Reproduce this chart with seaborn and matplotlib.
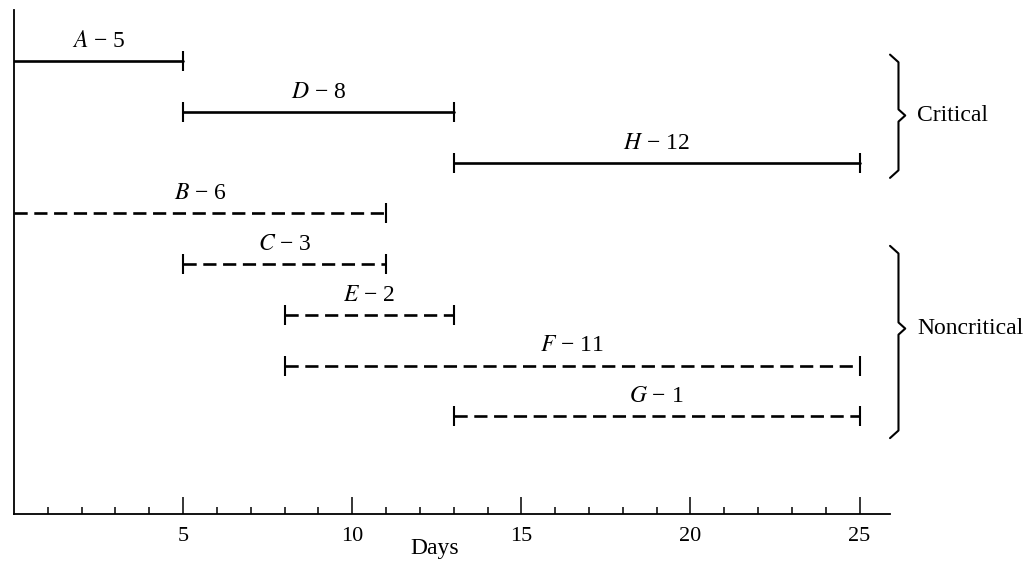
import pandas as pd
import matplotlib
matplotlib.use("Agg")
import matplotlib.pyplot as plt
import seaborn as sns

# activities: name, duration, start, end, critical?
tasks = ["A", "D", "H", "B", "C", "E", "F", "G"]
durations = [5, 8, 12, 6, 3, 2, 11, 1]
starts = [0, 5, 13, 0, 5, 8, 8, 13]
ends = [5, 13, 25, 11, 11, 13, 25, 25]
kinds = ["Critical"] * 3 + ["Noncritical"] * 5
x_ticks = [5, 10, 15, 20, 25]

sns.set_theme(style="ticks")
serif = ["Liberation Serif", "DejaVu Serif"]
plt.rcParams["font.family"] = serif
plt.rcParams["mathtext.fontset"] = "stix"
plt.rcParams["text.color"] = "black"
plt.rcParams["axes.labelcolor"] = "black"
plt.rcParams["xtick.color"] = "black"
plt.rcParams["xtick.labelcolor"] = "black"

rows = list(range(len(tasks)))
seg = pd.DataFrame({
    "task": tasks * 2,
    "day": starts + ends,
    "row": rows * 2,
    "kind": kinds * 2,
})

fig = plt.figure(figsize=(10.36, 5.83), dpi=100)
ax = fig.add_axes([0.0135, 0.118, 0.8456, 0.864])

sns.lineplot(data=seg, x="day", y="row", units="task", estimator=None,
             style="kind", dashes={"Critical": "", "Noncritical": (5, 2.5)},
             color="black", linewidth=1.9, sort=False, legend=False, ax=ax)

# end caps (skip the ones sitting on the day-0 axis)
caps = seg[seg["day"] > 0]
sns.scatterplot(data=caps, x="day", y="row", marker="|", s=190,
                color="black", linewidth=1.5, legend=False, ax=ax)

for t, d, s, e, r in zip(tasks, durations, starts, ends, rows):
    ax.text((s + e) / 2, r - 0.18, f"${t}$ − {d}", ha="center", va="bottom",
            fontsize=17)

ax.set_xlim(0, 25.9)
ax.set_ylim(8.93, -1.0)
ax.set_xticks(x_ticks)
ax.set_xticks(range(1, 26), minor=True)
ax.set_yticks([])
ax.tick_params(axis="x", which="major", direction="in", length=12, width=1.1,
               labelsize=16, pad=9)
ax.tick_params(axis="x", which="minor", direction="in", length=5, width=1.1)
for side in ["top", "right"]:
    ax.spines[side].set_visible(False)
for side in ["left", "bottom"]:
    ax.spines[side].set_linewidth(1.3)
    ax.spines[side].set_color("black")
ax.set_ylabel("")
ax.set_xlabel("Days", fontsize=17, family=serif, color="black")
ax.xaxis.set_label_coords(12.45 / 25.9, -0.068)
ax.xaxis.label.set_verticalalignment("center")


def brace(ax, x0, top, bottom, tip):
    xs = [x0 - 0.25, x0, x0, x0 + 0.2, x0, x0, x0 - 0.25]
    ys = [top - 0.05, top + 0.1, tip - 0.12, tip, tip + 0.12, bottom - 0.1,
          bottom + 0.05]
    ax.plot(xs, ys, color="black", linewidth=1.5, clip_on=False)


brace(ax, 26.15, -0.08, 2.25, 1.07)
brace(ax, 26.15, 3.69, 7.38, 5.27)
ax.text(26.7, 1.07, "Critical", ha="left", va="center", fontsize=17,
        clip_on=False)
ax.text(26.7, 5.27, "Noncritical", ha="left", va="center", fontsize=17,
        clip_on=False)

fig.savefig("out.png", dpi=100)
